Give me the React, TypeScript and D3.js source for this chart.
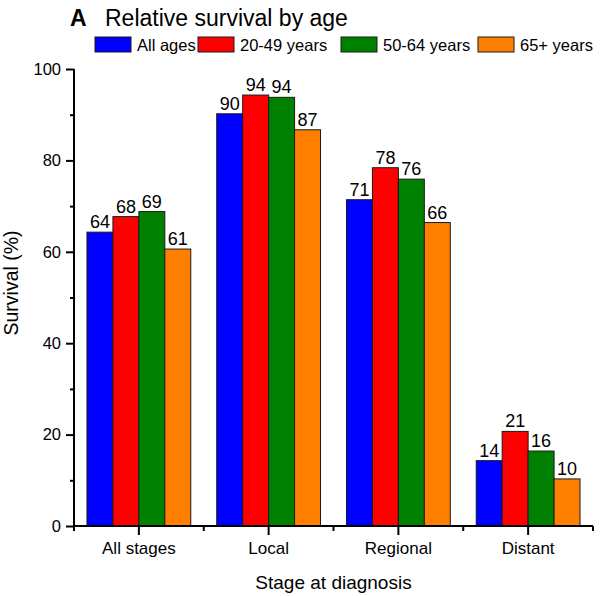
import { useEffect, useRef } from 'react'
import * as d3 from 'd3'

const stages = ['All stages', 'Local', 'Regional', 'Distant']
const series = ['All ages', '20-49 years', '50-64 years', '65+ years']
const colors = ['#0000ff', '#ff0000', '#008000', '#ff8000']
// values per series, in stage order
const allAges = [64.3, 90.2, 71.4, 14.3]
const age2049 = [67.7, 94.3, 78.4, 20.7]
const age5064 = [68.8, 93.8, 75.9, 16.4]
const age65 = [60.6, 86.7, 66.4, 10.3]
const labels = [
  ['64', '90', '71', '14'],
  ['68', '94', '78', '21'],
  ['69', '94', '76', '16'],
  ['61', '87', '66', '10'],
]
const yTicks = [0, 20, 40, 60, 80, 100]
const yMinor = [10, 30, 50, 70, 90]

const FONT = 'Liberation Sans, Arial, Helvetica, sans-serif'

export default function App() {
  const svgRef = useRef<SVGSVGElement>(null)

  useEffect(() => {
    const svgEl = svgRef.current
    if (!svgEl) return
    const width = 609
    const height = 596
    const margin = { top: 69, right: 16, bottom: 70, left: 74 }
    const values = [allAges, age2049, age5064, age65]

    const svg = d3.select(svgEl)
    svg.attr('width', width).attr('height', height).selectAll('*').remove()

    const x0 = d3.scaleBand<string>()
      .domain(stages)
      .range([margin.left, width - margin.right])
      .paddingInner(0.2)
      .paddingOuter(0.1)
    const x1 = d3.scaleBand<string>().domain(series).range([0, x0.bandwidth()])
    const y = d3.scaleLinear().domain([0, 100]).range([height - margin.bottom, margin.top])

    // Bars
    series.forEach((s, si) => {
      const g = svg.append('g')
      stages.forEach((st, ci) => {
        const v = values[si][ci]
        const bx = (x0(st) ?? 0) + (x1(s) ?? 0)
        g.append('rect')
          .attr('x', bx)
          .attr('y', y(v))
          .attr('width', x1.bandwidth())
          .attr('height', y(0) - y(v))
          .style('fill', colors[si])
          .style('stroke', '#1a1a1a')
          .style('stroke-width', '1')
        g.append('text')
          .attr('x', bx + x1.bandwidth() / 2)
          .attr('y', y(v) - 4)
          .attr('text-anchor', 'middle')
          .style('font-family', FONT)
          .style('font-size', '18px')
          .style('fill', '#000')
          .text(labels[si][ci])
      })
    })

    // Y axis
    const yAxisG = svg.append('g').attr('transform', `translate(${margin.left},0)`)
    yAxisG.call(d3.axisLeft(y).tickValues(yTicks).tickSize(8).tickPadding(5).tickFormat(d => `${d}`))
    yAxisG.append('g').call(d3.axisLeft(y).tickValues(yMinor).tickSize(4).tickFormat(() => ''))
      .select('.domain').remove()
    yAxisG.selectAll('.domain').attr('d', `M0,${y(100)}V${y(0)}`)
    yAxisG.selectAll('line, path').style('stroke', '#000').style('stroke-width', '2')
    yAxisG.selectAll('text')
      .style('font-family', FONT)
      .style('font-size', '16.5px')
      .style('fill', '#000')

    // X axis
    const xAxisG = svg.append('g').attr('transform', `translate(0,${y(0)})`)
    const step = x0.step()
    const start = margin.left
    xAxisG.append('line')
      .attr('x1', start).attr('x2', width - margin.right)
      .attr('y1', 0).attr('y2', 0)
    stages.forEach((st, i) => {
      const cx = (x0(st) ?? 0) + x0.bandwidth() / 2
      xAxisG.append('line').attr('x1', cx).attr('x2', cx).attr('y1', 0).attr('y2', 9)
      xAxisG.append('text')
        .attr('x', cx)
        .attr('y', 28)
        .attr('text-anchor', 'middle')
        .style('font-family', FONT)
        .style('font-size', '17px')
        .style('fill', '#000')
        .text(st)
      const bx = start + i * step
      xAxisG.append('line').attr('x1', bx).attr('x2', bx).attr('y1', 0).attr('y2', 5)
    })
    const endX = start + stages.length * step
    xAxisG.append('line').attr('x1', endX).attr('x2', endX).attr('y1', 0).attr('y2', 5)
    xAxisG.selectAll('line').style('stroke', '#000').style('stroke-width', '2')

    // Axis titles
    svg.append('text')
      .attr('x', (margin.left + width - margin.right) / 2)
      .attr('y', 589)
      .attr('text-anchor', 'middle')
      .style('font-family', FONT)
      .style('font-size', '19px')
      .text('Stage at diagnosis')
    svg.append('text')
      .attr('transform', `translate(18,283) rotate(-90)`)
      .attr('text-anchor', 'middle')
      .style('font-family', FONT)
      .style('font-size', '19.5px')
      .text('Survival (%)')

    // Title
    const title = svg.append('text').attr('x', 70).attr('y', 26)
      .style('font-family', FONT).style('font-size', '23px')
    title.append('tspan').style('font-weight', 'bold').text('A')
    title.append('tspan').attr('x', 105).text('Relative survival by age')

    // Legend
    const legendX = [95, 198, 341, 478]
    series.forEach((s, i) => {
      const lg = svg.append('g').attr('transform', `translate(${legendX[i]},37)`)
      lg.append('rect')
        .attr('width', 36).attr('height', 15)
        .style('fill', colors[i]).style('stroke', '#1a1a1a').style('stroke-width', '1')
      lg.append('text')
        .attr('x', 42).attr('y', 14)
        .style('font-family', FONT).style('font-size', '16.5px')
        .text(s)
    })
  }, [])

  return (
    <div style={{ position: 'absolute', left: 0, top: 0, background: '#fff' }}>
      <svg ref={svgRef} style={{ display: 'block' }} />
    </div>
  )
}
